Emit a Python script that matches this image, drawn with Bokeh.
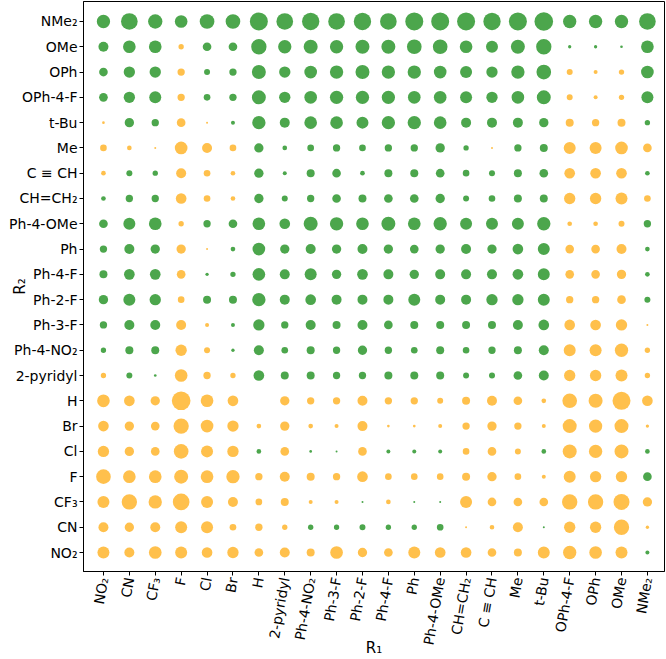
import math
from bokeh.plotting import figure
from bokeh.models import FixedTicker, ColumnDataSource, Range1d
from bokeh.embed import file_html
from bokeh.resources import INLINE

# Substituent labels (R1 along x, left->right; R2 along y, bottom->top use same order)
subst = ["NO₂", "CN", "CF₃", "F", "Cl", "Br", "H", "2-pyridyl", "Ph-4-NO₂",
         "Ph-3-F", "Ph-2-F", "Ph-4-F", "Ph", "Ph-4-OMe", "CH=CH₂", "C ≡ CH",
         "Me", "t-Bu", "OPh-4-F", "OPh", "OMe", "NMe₂"]

# Values per R2 row, columns in R1 order. Sign: + (green) / - (orange); magnitude -> bubble size
v_NMe2    = [40, 50, 43, 38, 44, 44, 54, 50, 52, 50, 52, 50, 54, 54, 54, 52, 54, 56, 40, 40, 40, 50]
v_OMe     = [30, 38, 38, -16, 26, 26, 46, 40, 42, 40, 42, 42, 44, 44, 38, 36, 42, 46, 10, 10, 8, 38]
v_OPh     = [26, 34, 34, -22, 18, 22, 42, 34, 38, 40, 42, 40, 40, 38, 36, 34, 40, 44, -18, -12, -16, 38]
v_OPh4F   = [26, 34, 36, -22, 20, 22, 42, 34, 38, 40, 40, 40, 38, 38, 36, 34, 38, 42, -18, -12, -16, 36]
v_tBu     = [-8, 28, 22, -26, -6, 12, 40, 30, 38, 38, 36, 40, 40, 38, 30, 30, 30, 28, -24, -22, -24, 16]
v_Me      = [-20, -14, -6, -38, -30, -20, 28, 14, 20, 22, 20, 22, 22, 28, 16, -6, 22, 24, -36, -36, -38, -26]
v_CCH     = [-14, 18, 16, -30, -20, -14, 28, 12, 24, 26, 14, 24, 24, 26, 20, 18, 24, 26, -32, -32, -32, 14]
v_CHCH2   = [14, 22, 22, -32, -20, -14, 28, 18, 22, 26, 24, 26, 26, 28, 18, 20, 24, 24, -34, -34, -36, -20]
v_Ph4OMe  = [26, 36, 38, -16, 22, 26, 38, 32, 42, 40, 38, 42, 38, 40, 36, 36, 36, 40, -14, -14, -18, 22]
v_Ph      = [22, 30, 28, -28, -6, 14, 38, 28, 30, 28, 30, 28, 26, 28, 30, 28, 32, 36, -26, -26, -30, 14]
v_Ph4F    = [24, 32, 32, -26, 10, 16, 38, 30, 36, 28, 32, 30, 28, 30, 30, 30, 32, 36, -26, -26, -28, 14]
v_Ph2F    = [28, 36, 34, -20, 24, 24, 40, 30, 32, 30, 30, 30, 36, 30, 30, 34, 34, 36, -22, -22, -26, 18]
v_Ph3F    = [22, 30, 30, -30, -12, 12, 34, 22, 30, 24, 30, 26, 24, 24, 24, 24, 30, 32, -32, -32, -34, -6]
v_Ph4NO2  = [16, 24, 24, -34, -18, 10, 30, 20, 24, 22, 28, 22, 20, 24, 20, 22, 24, 30, -36, -36, -40, -16]
v_pyridyl = [-16, 18, 8, -38, -22, -16, 32, 24, 24, 22, 22, 24, 24, 24, 18, 18, 26, 30, -34, -34, -36, -16]
v_H       = [-38, -32, -28, -56, -38, -32, 0, -28, -22, -22, -30, -22, -22, -18, -24, -30, -26, -14, -44, -42, -54, -32]
v_Br      = [-32, -28, -26, -46, -38, -34, -14, -28, -14, -12, -30, -8, -8, -12, -22, -28, -22, -12, -42, -40, -42, -10]
v_Cl      = [-34, -28, -26, -44, -36, -34, 14, -26, 8, 6, -26, 12, 12, 12, -20, -26, -18, 14, -42, -40, -42, 14]
v_F       = [-44, -38, -38, -42, -38, -40, -22, -30, -24, -22, -32, -20, -20, -20, -24, -28, -20, -12, -36, -34, -34, 26]
v_CF3     = [-36, -46, -40, -50, -36, -30, -20, -24, -12, -12, 6, -14, 6, 6, -36, -26, -26, -26, -46, -46, -48, -28]
v_CN      = [-30, -28, -30, -36, -36, -20, -22, -16, 16, 16, 18, 16, 16, 20, -6, -14, -30, 6, -34, -34, -46, -10]
v_NO2     = [-36, -30, -38, -36, -32, -34, -26, -30, -24, -38, -28, -26, -36, -32, -32, -26, -24, -36, -40, -38, -36, 12]

# rows listed bottom (R2 = NO2) to top (R2 = NMe2), matching `subst` order
rows = [v_NO2, v_CN, v_CF3, v_F, v_Cl, v_Br, v_H, v_pyridyl, v_Ph4NO2, v_Ph3F,
        v_Ph2F, v_Ph4F, v_Ph, v_Ph4OMe, v_CHCH2, v_CCH, v_Me, v_tBu, v_OPh4F,
        v_OPh, v_OMe, v_NMe2]

PX_PER_UNIT = 1.0 / 3.0

xs, ys, sizes, colors = [], [], [], []
for yi, row in enumerate(rows):
    for xi, v in enumerate(row):
        if v == 0:
            continue
        xs.append(xi)
        ys.append(yi)
        sizes.append(abs(v) * PX_PER_UNIT)
        colors.append("green" if v > 0 else "orange")

src = ColumnDataSource(dict(x=xs, y=ys, size=sizes, color=colors))

p = figure(width=666, height=659, output_backend="svg", toolbar_location=None,
           x_range=Range1d(-0.77, 21.66), y_range=Range1d(-0.75, 21.79),
           min_border_left=83, min_border_right=2, min_border_top=1, min_border_bottom=88)

p.scatter(x="x", y="y", size="size", color="color", source=src,
          fill_alpha=0.7, line_color=None)

p.xgrid.visible = False
p.ygrid.visible = False
p.outline_line_color = "black"
p.outline_line_width = 1

ticks = list(range(len(subst)))
for ax in (p.xaxis[0], p.yaxis[0]):
    ax.ticker = FixedTicker(ticks=ticks)
    ax.major_label_overrides = {i: s for i, s in enumerate(subst)}
    ax.major_label_text_font = "DejaVu Sans"
    ax.major_label_text_font_size = "14px"
    ax.major_label_text_color = "black"
    ax.axis_label_text_font = "DejaVu Sans"
    ax.axis_label_text_font_size = "15px"
    ax.axis_label_text_font_style = "normal"
    ax.axis_label_text_color = "black"
    ax.major_tick_in = 0
    ax.major_tick_out = 4
    ax.minor_tick_line_color = None
    ax.axis_line_color = "black"
    ax.major_tick_line_color = "black"
    ax.major_label_standoff = 2

p.xaxis.axis_label = "R₁"
p.yaxis.axis_label = "R₂"
p.xaxis.major_label_orientation = 80 * math.pi / 180
p.xaxis.axis_label_standoff = -12
p.yaxis.axis_label_standoff = -23

open("out.html", "w").write(file_html(p, INLINE))
